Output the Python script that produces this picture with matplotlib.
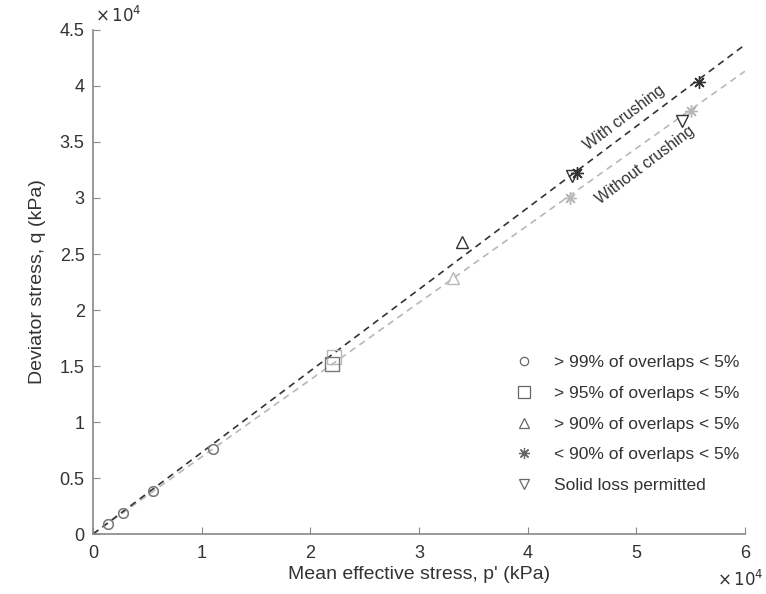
import matplotlib.pyplot as plt
from matplotlib.lines import Line2D
import numpy as np

plt.rcParams['font.family'] = ['Liberation Sans', 'DejaVu Sans']

# with crushing (dark markers)
with_circ_p = [1400, 2750, 5500, 11000]
with_circ_q = [900, 1870, 3800, 7600]
with_sq_p = [22000]
with_sq_q = [15200]
with_tri_p = [34000]
with_tri_q = [26100]
with_ast_p = [44500, 55800]
with_ast_q = [32200, 40400]
with_tdn_p = [44100, 54200]
with_tdn_q = [32000, 36900]

# without crushing (light markers)
wo_circ_p = [1400, 2750, 5500, 11000]
wo_circ_q = [900, 1870, 3800, 7600]
wo_sq_p = [22200]
wo_sq_q = [15800]
wo_tri_p = [33100]
wo_tri_q = [22900]
wo_ast_p = [43900, 55000]
wo_ast_q = [30000, 37800]

legend_labels = ["> 99% of overlaps < 5%", "> 95% of overlaps < 5%",
                 "> 90% of overlaps < 5%", "< 90% of overlaps < 5%",
                 "Solid loss permitted"]

dark = '#333333'
light = '#b8b8b8'
ast = (8, 2, 0)

fig = plt.figure(figsize=(7.66, 5.94), dpi=100)
ax = fig.add_axes([0.1214, 0.101, 0.8512, 0.8485])

# fitted lines through origin
def fit(ps, qs):
    p = np.array(ps, float)
    q = np.array(qs, float)
    return np.sum(p*q)/np.sum(p*p)

with_p = with_circ_p + with_sq_p + with_tri_p + with_ast_p
with_q = with_circ_q + with_sq_q + with_tri_q + with_ast_q
wo_p = wo_circ_p + wo_sq_p + wo_tri_p + wo_ast_p
wo_q = wo_circ_q + wo_sq_q + wo_tri_q + wo_ast_q
xx = np.array([0, 60000])
ax.plot(xx, fit(wo_p, wo_q)*xx, '--', color=light, lw=1.2, dashes=(4, 3))
ax.plot(xx, fit(with_p, with_q)*xx, '--', color=dark, lw=1.2, dashes=(4, 3))

mk = dict(ls='none', mfc='none', mew=1.0)
ax.plot(wo_circ_p, wo_circ_q, 'o', color=light, ms=7, **mk)
ax.plot(wo_sq_p, wo_sq_q, 's', color=light, ms=10, **mk)
ax.plot(wo_tri_p, wo_tri_q, '^', color=light, ms=8, **mk)
ax.plot(wo_ast_p, wo_ast_q, marker=ast, color=light, ms=9, **mk)

ax.plot(with_circ_p, with_circ_q, 'o', color='#777777', ms=7, **mk)
ax.plot(with_sq_p, with_sq_q, 's', color='#777777', ms=10, **mk)
ax.plot(with_tri_p, with_tri_q, '^', color=dark, ms=8, **mk)
ax.plot(with_ast_p, with_ast_q, marker=ast, color=dark, ms=9, **mk)
ax.plot(with_tdn_p, with_tdn_q, 'v', color=dark, ms=8, **mk)

ax.text(48900, 37200, "With crushing", rotation=37, ha='center', va='center',
        fontsize=11.5, color='#333333', rotation_mode='anchor')
ax.text(50800, 32900, "Without crushing", rotation=37, ha='center', va='center',
        fontsize=11.5, color='#333333', rotation_mode='anchor')

handles = [Line2D([], [], marker=m, color='#666666', ls='none', mfc='none', ms=s, mew=0.9)
           for m, s in zip(['o', 's', '^', ast, 'v'], [6, 9, 7, 8, 7])]
leg = ax.legend(handles, legend_labels, loc='center left', bbox_to_anchor=(0.617, 0.218),
                frameon=False, fontsize=12.5, labelspacing=0.9, handletextpad=1.0,
                handlelength=1.5)
for t in leg.get_texts():
    t.set_color('#333333')

ax.set_xlim(0, 60000)
ax.set_ylim(0, 45000)
ax.set_xticks(np.arange(0, 60001, 10000))
ax.set_xticklabels([str(i) for i in range(7)])
ax.set_yticks(np.arange(0, 45001, 5000))
ax.set_yticklabels(['0', '0.5', '1', '1.5', '2', '2.5', '3', '3.5', '4', '4.5'])
ax.spines['top'].set_visible(False)
ax.spines['right'].set_visible(False)
for s in ['left', 'bottom']:
    ax.spines[s].set_color('#888888')
    ax.spines[s].set_linewidth(1.2)
ax.tick_params(direction='in', color='#888888', labelcolor='#333333', labelsize=13, length=5)
ax.tick_params(axis='x', pad=8)
ax.tick_params(axis='y', pad=6)

fig.text(95/766, 1 - 22/594, r'$\times\,10^4$', fontsize=12, color='#333333',
         ha='left', va='baseline', math_fontfamily='dejavusans')
fig.text(764/766, 1 - 586/594, r'$\times\,10^4$', fontsize=12, color='#333333',
         ha='right', va='baseline', math_fontfamily='dejavusans')

ax.set_xlabel("Mean effective stress, p' (kPa)", fontsize=14, color='#333333', labelpad=3)
ax.set_ylabel("Deviator stress, q (kPa)", fontsize=14, color='#333333', labelpad=10)

fig.savefig('out.png', dpi=100)
